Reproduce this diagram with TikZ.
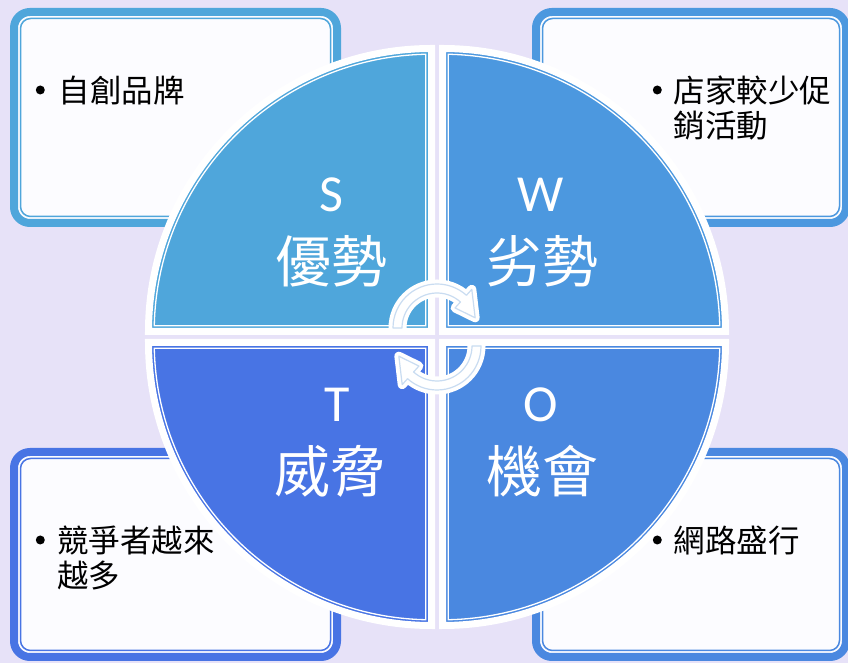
\documentclass[tikz,border=0pt]{standalone}
\usepackage{fontspec}
\setmainfont{Carlito}
\newfontfamily\cjk{Noto Sans CJK TC}
\usetikzlibrary{calc}
\definecolor{bg}{HTML}{E7E2F8}
\definecolor{cS}{HTML}{4FA6DB}
\definecolor{cW}{HTML}{4C98DF}
\definecolor{cO}{HTML}{4A88E0}
\definecolor{cT}{HTML}{4874E4}
\definecolor{boxfill}{HTML}{FCFCFF}
\definecolor{arrline}{HTML}{C9DCF1}
\begin{document}
\begin{tikzpicture}[x=1pt,y=1pt,
  quad/.style={draw=white, line width=7pt},
  quadin/.style={draw=white, line width=1.3pt},
  outerbox/.style={line width=8pt, rounded corners=16pt, fill=boxfill},
  innerbox/.style={line width=1.5pt, rounded corners=10pt},
  bigletter/.style={font=\fontsize{52}{52}\selectfont, text=white, inner sep=0pt, anchor=base},
  bigcjk/.style={font=\cjk\fontsize{56}{56}\selectfont, text=white, inner sep=0pt, anchor=base},
  itemtext/.style={font=\cjk\fontsize{31.5}{35}\selectfont, inner sep=0pt, anchor=base west},
  bulletdot/.style={circle, fill=black, inner sep=0pt, minimum size=9pt},
  arrowshape/.style={draw=white, fill=white, line width=9pt, line join=round},
  arrowline/.style={draw=arrline, line width=1.2pt, line join=round}]
\useasboundingbox (0,0) rectangle (848,663);
\fill[bg] (0,0) rectangle (848,663);
\clip (0,0) rectangle (848,663);

% boxes
\draw[outerbox, draw=cS] (14,651) rectangle (337,440);
\draw[innerbox, draw=cS] (20.5,644.5) rectangle (330.5,446.5);
\draw[outerbox, draw=cW] (536,651) rectangle (846,440);
\draw[innerbox, draw=cW] (542.5,644.5) rectangle (839.5,446.5);
\draw[outerbox, draw=cT] (14,211) rectangle (337,6);
\draw[innerbox, draw=cT] (20.5,204.5) rectangle (330.5,12.5);
\draw[outerbox, draw=cO] (536,211) rectangle (846,6);
\draw[innerbox, draw=cO] (542.5,204.5) rectangle (839.5,12.5);

% quadrants
\coordinate (sC) at (431.5,331.5);
\coordinate (wC) at (442.5,331.5);
\coordinate (tC) at (431.5,320.5);
\coordinate (oC) at (442.5,320.5);
\path[quad, fill=cS] (sC) -- ++(180:283) arc[start angle=180,end angle=90,radius=283] -- cycle;
\draw[quadin] ($(sC)+(-5.7,5.7)$) -- ($(sC)+(178.82:277.3)$) arc[start angle=178.82,end angle=91.18,radius=277.3] -- cycle;
\path[quad, fill=cW] (wC) -- ++(90:283) arc[start angle=90,end angle=0,radius=283] -- cycle;
\draw[quadin] ($(wC)+(5.7,5.7)$) -- ($(wC)+(88.82:277.3)$) arc[start angle=88.82,end angle=1.18,radius=277.3] -- cycle;
\path[quad, fill=cT] (tC) -- ++(270:283) arc[start angle=270,end angle=180,radius=283] -- cycle;
\draw[quadin] ($(tC)+(-5.7,-5.7)$) -- ($(tC)+(268.82:277.3)$) arc[start angle=268.82,end angle=181.18,radius=277.3] -- cycle;
\path[quad, fill=cO] (oC) -- ++(0:283) arc[start angle=0,end angle=-90,radius=283] -- cycle;
\draw[quadin] ($(oC)+(5.7,-5.7)$) -- ($(oC)+(-1.18:277.3)$) arc[start angle=-1.18,end angle=-88.82,radius=277.3] -- cycle;

% quadrant labels
\node[bigletter] (sL) at (331,451) {S};
\node[bigcjk] (sT) at (331,380) {優勢};
\node[bigletter] (wL) at (541,451) {W};
\node[bigcjk] (wT) at (542,380) {劣勢};
\node[bigletter] (tL) at (337,241) {T};
\node[bigcjk] (tT) at (330,170) {威脅};
\node[bigletter] (oL) at (541,241) {O};
\node[bigcjk] (oT) at (542,170) {機會};

% box items
\node[bulletdot] (b1) at (40.3,573) {};
\node[itemtext] (i1) at (58.5,560) {自創品牌};
\node[bulletdot] (b2) at (657.3,573) {};
\node[itemtext] (i2) at (673.5,560) {\vtop{\hbox{店家較少促}\hbox{銷活動}}};
\node[bulletdot] (b3) at (40.3,123) {};
\node[itemtext] (i3) at (57,110) {\vtop{\hbox{競爭者越來}\hbox{越多}}};
\node[bulletdot] (b4) at (657.3,123) {};
\node[itemtext] (i4) at (673.5,110) {網路盛行};

% circular arrows
\coordinate (ca) at (437,335);
\coordinate (cb) at (437,317);
\foreach \st in {arrowshape,arrowline}{
  \path[\st] ($(ca)+(180:44)$) arc[start angle=180,end angle=48,radius=44]
    -- ($(ca)+(48:52)$) -- ($(ca)+(15:39.5)$) -- ($(ca)+(48:27)$)
    -- ($(ca)+(48:35)$) arc[start angle=48,end angle=180,radius=35] -- cycle;
  \path[\st] ($(cb)+(0:44)$) arc[start angle=0,end angle=-132,radius=44]
    -- ($(cb)+(-132:52)$) -- ($(cb)+(-165:39.5)$) -- ($(cb)+(-132:27)$)
    -- ($(cb)+(-132:35)$) arc[start angle=-132,end angle=0,radius=35] -- cycle;
}
\end{tikzpicture}
\end{document}
